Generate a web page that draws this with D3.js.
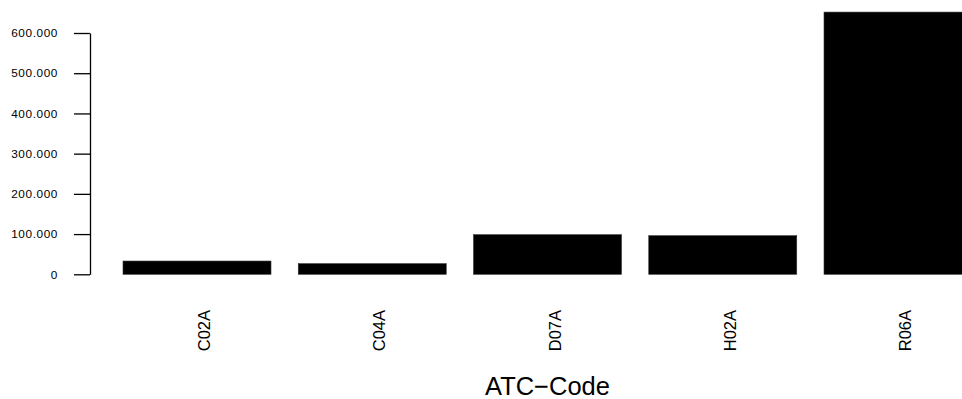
<!DOCTYPE html>
<html>
<head>
<meta charset="utf-8">
<script src="https://cdn.jsdelivr.net/npm/d3@7"></script>
<style>
  html, body { margin: 0; padding: 0; background: #fff; }
  svg { display: block; font-family: "Liberation Sans", Arial, Helvetica, sans-serif; }
</style>
</head>
<body>
<svg id="chart" width="962" height="399"></svg>
<script>
const categories = ["C02A", "C04A", "D07A", "H02A", "R06A"];
const values = [33000, 26500, 98500, 96000, 652000];
const yTicks = [0, 100000, 200000, 300000, 400000, 500000, 600000];
const xTitle = "ATC\u2212Code";

const svg = d3.select("#chart");

const x = d3.scaleBand()
  .domain(categories)
  .range([123, 972])
  .paddingInner(0.1555)
  .paddingOuter(0);

const y = d3.scaleLinear()
  .domain([0, 600000])
  .range([274.3, 33]);

const de = d3.formatLocale({ decimal: ",", thousands: ".", grouping: [3], currency: ["", " €"] });
const fmt = de.format(",d");

// bars
svg.append("g")
  .selectAll("rect")
  .data(categories)
  .join("rect")
  .attr("x", d => x(d))
  .attr("width", x.bandwidth())
  .attr("y", (d, i) => y(values[i]))
  .attr("height", (d, i) => y(0) - y(values[i]))
  .attr("fill", "#000")
  .attr("stroke", "#333")
  .attr("stroke-width", 0.6);

// y axis
const yAxis = svg.append("g")
  .attr("transform", "translate(90,0)")
  .call(d3.axisLeft(y).tickValues(yTicks).tickFormat(fmt).tickSize(16).tickSizeOuter(0).tickPadding(16));
yAxis.selectAll("path, line").attr("stroke", "#000").attr("stroke-width", 1.3);
yAxis.selectAll("text")
  .attr("font-size", 11.8)
  .attr("letter-spacing", 0.6)
  .attr("fill", "#000")
  .attr("font-family", "Liberation Sans, Arial, sans-serif");

// x labels (rotated)
svg.append("g")
  .selectAll("text")
  .data(categories)
  .join("text")
  .attr("transform", d => `translate(${x(d) + x.bandwidth() / 2 + 13},310) rotate(-90)`)
  .attr("text-anchor", "end")
  .attr("font-size", 16.5)
  .attr("fill", "#000")
  .text(d => d);

// x title
svg.append("text")
  .attr("x", (x.range()[0] + x.range()[1]) / 2)
  .attr("y", 395)
  .attr("text-anchor", "middle")
  .attr("font-size", 25.5)
  .attr("fill", "#000")
  .text(xTitle);
</script>
</body>
</html>
